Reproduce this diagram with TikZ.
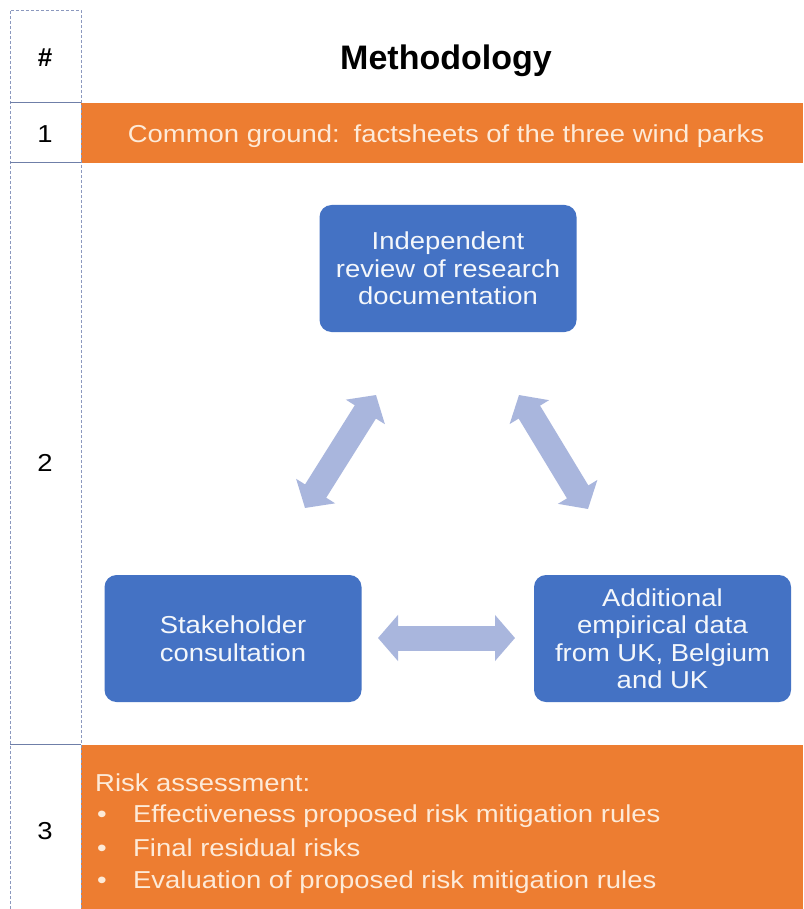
\documentclass[tikz,border=0pt]{standalone}
\usepackage{fontspec}
\setmainfont{Liberation Sans}
\newfontfamily\widesans[FakeStretch=1.12]{Liberation Sans}
\usetikzlibrary{arrows.meta}
\definecolor{orng}{HTML}{ED7D31}
\definecolor{bbox}{HTML}{4472C4}
\definecolor{arr}{HTML}{A9B6DD}
\definecolor{cream}{HTML}{FDEAD8}
\definecolor{colline}{HTML}{8B98BE}
\definecolor{sepline}{HTML}{6F7FA8}
\tikzset{
  body/.style={font=\widesans\fontsize{24.5}{27.5}\selectfont},
  numtxt/.style={body, text=black, inner sep=0pt},
  bluebox/.style={body, fill=bbox, rounded corners=12pt, text=white!94!bbox,
    align=center, minimum width=257pt, minimum height=127pt, inner sep=0pt},
  orangetxt/.style={body, text=cream, inner sep=0pt},
  blockarrow/.style={draw=arr, line width=25pt,
    {Triangle[length=20pt,width=45pt]}-{Triangle[length=20pt,width=45pt]}},
}
\begin{document}
\begin{tikzpicture}[x=1pt,y=-1pt]
\useasboundingbox (0,0) rectangle (803,909);
\fill[white] (0,0) rectangle (803,909);
% orange bands
\fill[orng] (81,103) rectangle (803,163);
\fill[orng] (81,745) rectangle (803,909);
% left column
\draw[colline, densely dashed, line width=0.9pt] (10,909) -- (10,10) -- (81,10) -- (81,909);
\draw[sepline, line width=1pt] (10,103) -- (81,103);
\draw[sepline, line width=1pt] (10,163) -- (81,163);
\draw[sepline, line width=1pt] (10,744) -- (81,744);
% header
\node[font=\bfseries\fontsize{26}{30}\selectfont, inner sep=0pt, anchor=base] (hash) at (45,67) {\#};
\node[font=\bfseries\fontsize{34}{40}\selectfont, inner sep=0pt, anchor=base] (title) at (446,70) {Methodology};
% row numbers
\node[numtxt] (n1) at (45,134) {1};
\node[numtxt] (n2) at (45,463) {2};
\node[numtxt] (n3) at (45,831) {3};
% row 1
\node[orangetxt, anchor=base] (common) at (446,143) {Common ground:\hspace{0.15em} factsheets of the three wind parks};
% row 2 boxes
\node[bluebox] (rev) at (448,268.5) {Independent\\review of research\\documentation};
\node[bluebox] (stake) at (233,638.5) {Stakeholder\\consultation};
\node[bluebox] (emp) at (662.5,638.5) {Additional\\empirical data\\from UK, Belgium\\and UK};
% arrow end points
\coordinate (a1) at (305,508);
\coordinate (a2) at (376,395);
\coordinate (b1) at (519,395);
\coordinate (b2) at (588,509);
\coordinate (c1) at (378,638);
\coordinate (c2) at (515,638);
\draw[blockarrow] (a1) -- (a2);
\draw[blockarrow] (b1) -- (b2);
\draw[blockarrow] (c1) -- (c2);
% row 3
\node[orangetxt, anchor=base west] (risk) at (95,791) {Risk assessment:};
\node[orangetxt, anchor=base west] (r1) at (97,822) {\makebox[36pt][l]{•}Effectiveness proposed risk mitigation rules};
\node[orangetxt, anchor=base west] (r2) at (97,856) {\makebox[36pt][l]{•}Final residual risks};
\node[orangetxt, anchor=base west] (r3) at (97,888) {\makebox[36pt][l]{•}Evaluation of proposed risk mitigation rules};
\end{tikzpicture}
\end{document}
